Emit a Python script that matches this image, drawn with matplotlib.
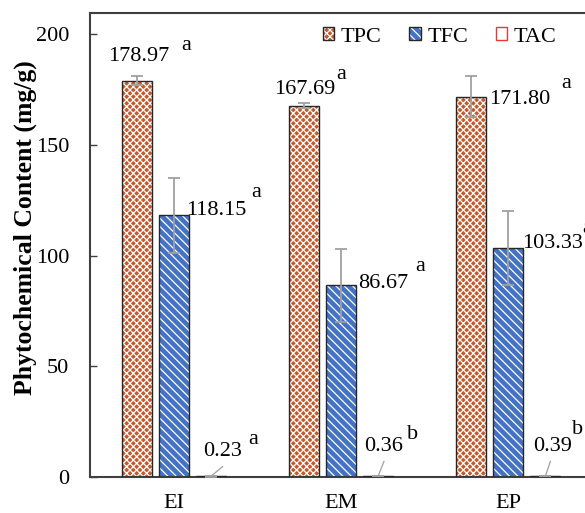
import numpy as np
import matplotlib
matplotlib.use("Agg")
import matplotlib.pyplot as plt
from matplotlib.patches import Patch

plt.rcParams['font.family'] = ['Liberation Serif', 'DejaVu Serif']
plt.rcParams['hatch.linewidth'] = 0.9

groups = ["EI", "EM", "EP"]
series = ["TPC", "TFC", "TAC"]
tpc = [178.97, 167.69, 171.80]
tfc = [118.15, 86.67, 103.33]
tac = [0.23, 0.36, 0.39]
tpc_err = [2.0, 1.2, 9.3]
tfc_err = [17.0, 16.5, 16.7]
tac_err = [0.02, 0.02, 0.02]
letters = [["a", "a", "a"], ["a", "a", "a"], ["a", "b", "b"]]

values = [tpc, tfc, tac]
errors = [tpc_err, tfc_err, tac_err]
labels = [["178.97", "167.69", "171.80"],
          ["118.15", "86.67", "103.33"],
          ["0.23", "0.36", "0.39"]]

colors = ["#C5592B", "#4472C4", "white"]
hatch_cols = ["white", "white", "#E03C31"]
hatches = ["xxxxx", "\\\\\\\\", "-"]

# label offsets in pixels (value text, letter)
txt_off = [[(2, 24), (1, 16), (48, -3)],
           [(43, 5), (42, 2), (44, 5)],
           [(12, 25), (5, 30), (7, 30)]]
let_off = [[(50, 35), (37, 31), (95, 13)],
           [(83, 23), (79, 19), (79, 20)],
           [(42, 37), (34, 42), (32, 47)]]
lead_off = [(12, 10), (6, 15), (5, 15)]

fig = plt.figure(figsize=(5.85, 5.13), dpi=100)
ax = fig.add_axes([90/585, 1-477/513, 502/585, 464/513])

x = np.arange(len(groups))
w = 0.18
step = 0.2216
handles = []
for i in range(3):
    xs = x + (i-1)*step
    ax.bar(xs, values[i], w, color=colors[i], edgecolor=hatch_cols[i],
           hatch=hatches[i], linewidth=0, zorder=2)
    ax.bar(xs, values[i], w, fill=False, edgecolor="#262626",
           linewidth=1.0, zorder=3)
    ax.errorbar(xs, values[i], yerr=errors[i], fmt='none', ecolor="#A0A0A0",
                elinewidth=1.3, capsize=4.5, capthick=1.3, zorder=4)
    for j in range(3):
        ax.annotate(labels[i][j], xy=(xs[j], values[i][j]), xytext=txt_off[i][j],
                    textcoords='offset pixels', ha='center', va='center',
                    fontsize=16, zorder=5, annotation_clip=False)
        ax.annotate(letters[i][j], xy=(xs[j], values[i][j]), xytext=let_off[i][j],
                    textcoords='offset pixels', ha='center', va='center',
                    fontsize=16, zorder=5, annotation_clip=False)
    edge = "#E03C31" if i == 2 else "#262626"
    handles.append((Patch(facecolor=colors[i], edgecolor=hatch_cols[i], hatch=hatches[i], linewidth=0),
                    Patch(fill=False, edgecolor=edge, linewidth=1.0)))

# leader lines for the small TAC labels
xs = x + step
for j in range(3):
    ax.annotate("", xy=(xs[j], tac[j]), xytext=lead_off[j], textcoords='offset pixels',
                arrowprops=dict(arrowstyle='-', color="#A0A0A0", lw=0.9,
                                shrinkA=0, shrinkB=0))

ax.set_xlim(-0.5, 2.5)
ax.set_ylim(0, 209.6)
ax.set_yticks([0, 50, 100, 150, 200])
ax.set_xticks(x)
ax.set_xticklabels(groups)
ax.tick_params(axis='x', length=0, pad=12, labelsize=16)
ax.tick_params(axis='y', direction='in', length=5, width=1, pad=15, labelsize=16,
               color="#404040")
for s in ax.spines.values():
    s.set_color("#404040")
    s.set_linewidth(1.5)

ax.set_ylabel("Phytochemical Content (mg/g)", fontsize=18.5, fontweight='bold')
ax.yaxis.set_label_coords(-0.105, 0.537)

ax.legend(handles, series, ncol=3, frameon=False, fontsize=16, loc='center left',
          bbox_to_anchor=(323/585, 1-37/513), bbox_transform=fig.transFigure,
          borderpad=0, borderaxespad=0, handlelength=0.5, handleheight=0.5,
          handletextpad=0.3, columnspacing=1.25)

fig.savefig("out.png", dpi=100)
